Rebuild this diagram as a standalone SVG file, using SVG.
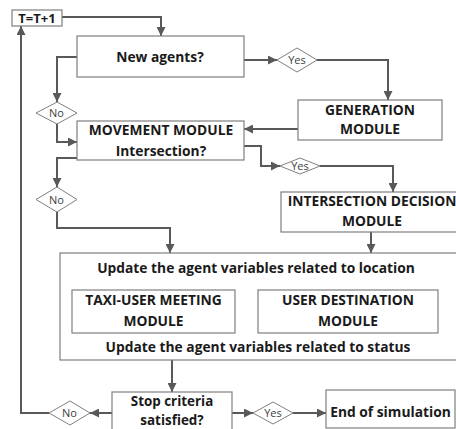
<svg xmlns="http://www.w3.org/2000/svg" width="456" height="429" viewBox="0 0 456 429">
<defs>
<marker id="ah" viewBox="0 0 10 10" refX="10" refY="5" markerWidth="9" markerHeight="9" markerUnits="userSpaceOnUse" orient="auto">
<path d="M0,0 L10,5 L0,10 Z" fill="#595959"/>
</marker>
<style>
.box{fill:#ffffff;stroke:#7f7f7f;stroke-width:1.2}
.dia{fill:#ffffff;stroke:#7f7f7f;stroke-width:1}
.c{fill:none;stroke:#595959;stroke-width:2;marker-end:url(#ah)}
.t{font-family:"Open Sans","Liberation Sans",sans-serif;font-weight:bold;font-size:13.8px;fill:#1a1a1a;text-anchor:middle}
.d{font-family:"Open Sans","Liberation Sans",sans-serif;font-size:11px;fill:#404040;text-anchor:middle}
</style>
</defs>
<rect width="456" height="429" fill="#ffffff"/>
<g id="connectors">
<path class="c" d="M62,17 H161 V36"/>
<path class="c" d="M77,57 H57 V102"/>
<path class="c" d="M57,124 V142 H77"/>
<path class="c" d="M244,60 H277"/>
<path class="c" d="M317,60 H388 V100"/>
<path class="c" d="M298,129 H244"/>
<path class="c" d="M244,146 H261 V166 H280"/>
<path class="c" d="M320,166 H393 V192"/>
<path class="c" d="M77,158 H57 V187"/>
<path class="c" d="M57,212 V228 H170 V253"/>
<path class="c" d="M371,232 V253"/>
<path class="c" d="M172,360 V392"/>
<path class="c" d="M112,413 H90"/>
<path class="c" d="M49,413 H21 V26"/>
<path class="c" d="M232,413 H253"/>
<path class="c" d="M293,413 H326"/>
</g>
<g id="tt1"><rect class="box" x="12" y="10" width="50" height="16"/><text class="t" x="37" y="23" style="font-size:13px">T=T+1</text></g>
<g id="newagents"><rect class="box" x="77" y="36" width="167" height="41"/><text class="t" x="160" y="62">New agents?</text></g>
<g id="yes1"><polygon class="dia" points="277,60 297,48 317,60 297,72"/><text class="d" x="297" y="64">Yes</text></g>
<g id="generation"><rect class="box" x="298" y="100" width="144" height="40"/><text class="t" x="370" y="115">GENERATION</text><text class="t" x="370" y="134">MODULE</text></g>
<g id="no1"><polygon class="dia" points="36,113 57,102 77,113 57,124"/><text class="d" x="56.5" y="117">No</text></g>
<g id="movement"><rect class="box" x="77" y="121" width="167" height="39"/><text class="t" x="161" y="135">MOVEMENT MODULE</text><text class="t" x="161" y="156">Intersection?</text></g>
<g id="yes2"><polygon class="dia" points="280,166 300,158 320,166 300,174"/><text class="d" x="300" y="170">Yes</text></g>
<g id="intersection"><rect class="box" x="281" y="192" width="182" height="40"/><text class="t" x="372" y="206">INTERSECTION DECISION</text><text class="t" x="372" y="226">MODULE</text></g>
<g id="no2"><polygon class="dia" points="36,199.5 57,187 77,199.5 57,212"/><text class="d" x="56.5" y="203.5">No</text></g>
<g id="update"><rect class="box" x="60" y="253" width="405" height="107"/><text class="t" x="256" y="273">Update the agent variables related to location</text><text class="t" x="258" y="352">Update the agent variables related to status</text></g>
<g id="taxiuser"><rect class="box" x="72" y="290" width="163" height="43"/><text class="t" x="153.5" y="305">TAXI-USER MEETING</text><text class="t" x="153.5" y="326">MODULE</text></g>
<g id="userdest"><rect class="box" x="258" y="290" width="180" height="43"/><text class="t" x="348" y="305">USER DESTINATION</text><text class="t" x="348" y="326">MODULE</text></g>
<g id="stop"><rect class="box" x="112" y="392" width="120" height="42"/><text class="t" x="172" y="406" style="font-size:13.4px">Stop criteria</text><text class="t" x="172" y="424.5" style="font-size:13.4px">satisfied?</text></g>
<g id="no3"><polygon class="dia" points="49,413 70,401 90,413 70,425"/><text class="d" x="69.5" y="417">No</text></g>
<g id="yes3"><polygon class="dia" points="253,413 273,402 293,413 273,424"/><text class="d" x="273" y="417">Yes</text></g>
<g id="end"><rect class="box" x="326" y="390" width="129" height="38"/><text class="t" x="390.5" y="417">End of simulation</text></g>
</svg>
